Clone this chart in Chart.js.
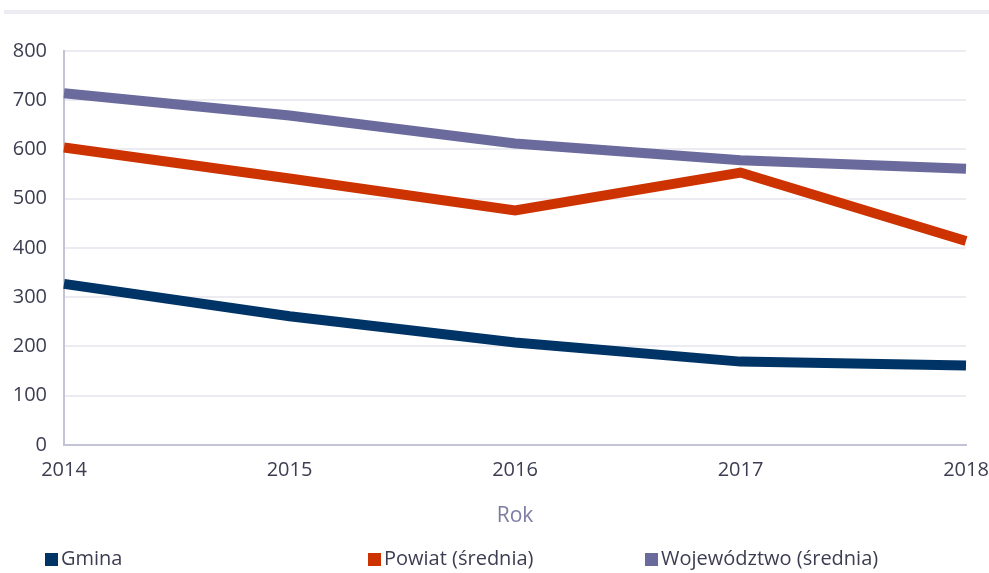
<!DOCTYPE html>
<html>
<head>
<meta charset="utf-8">
<script src="https://cdn.jsdelivr.net/npm/chart.js@4/dist/chart.umd.min.js"></script>
<style>
  html, body { margin: 0; padding: 0; background: #fff; }
  #wrap { position: relative; width: 989px; height: 573px; }
  #band { position: absolute; left: 4px; top: 10px; width: 985px; height: 4px; background: #ececf2; }
  canvas { position: absolute; left: 0; top: 0; }
</style>
</head>
<body>
<div id="wrap">
  <div id="band"></div>
  <canvas id="chart" width="989" height="573"></canvas>
</div>
<script>
  // dane
  var years = ['2014', '2015', '2016', '2017', '2018']
  var gmina = [327, 261, 208, 169, 161]
  var powiat = [604, 541, 476, 553, 414]
  var wojewodztwo = [714, 669, 612, 578, 561]
  var seriesNames = ['Gmina', 'Powiat (średnia)', 'Województwo (średnia)']
  var yTicks = [0, 100, 200, 300, 400, 500, 600, 700, 800]

  var colors = ['#003466', '#cc3300', '#6a6a9d']
  var textColor = '#3d3d52'
  var fontFamily = '"Open Sans", "Noto Sans", sans-serif'

  // legenda rysowana recznie, bo kolumny nie sa rownomierne
  var legendCols = [45, 368, 645]
  var fixedLegend = {
    id: 'fixedLegend',
    afterDraw: function (chart) {
      var ctx = chart.ctx
      ctx.save()
      ctx.font = '20px ' + fontFamily
      ctx.textBaseline = 'middle'
      chart.data.datasets.forEach(function (ds, i) {
        var x = legendCols[i]
        var y = 559
        ctx.fillStyle = ds.borderColor
        ctx.fillRect(x, y - 6, 13, 13)
        ctx.fillStyle = textColor
        ctx.fillText(ds.label, x + 16, y)
      })
      ctx.restore()
    }
  }

  var datasets = [gmina, powiat, wojewodztwo].map(function (vals, i) {
    return {
      label: seriesNames[i],
      data: vals,
      borderColor: colors[i],
      backgroundColor: colors[i],
      borderWidth: 10,
      pointRadius: 0,
      tension: 0,
      fill: false
    }
  })

  new Chart(document.getElementById('chart').getContext('2d'), {
    type: 'line',
    data: { labels: years, datasets: datasets },
    options: {
      responsive: false,
      animation: false,
      layout: { padding: { left: 12, right: 23, top: 51, bottom: 44 } },
      plugins: {
        legend: { display: false },
        tooltip: { enabled: false }
      },
      scales: {
        x: {
          offset: false,
          afterFit: function (axis) {
            axis.paddingLeft = 0
            axis.paddingRight = 0
          },
          grid: { display: false, drawTicks: false },
          border: { color: '#c3c3d6', width: 2 },
          ticks: { color: textColor, font: { family: fontFamily, size: 20 }, padding: 13, maxRotation: 0 },
          title: { display: true, text: 'Rok', color: '#7c7ca3', font: { family: fontFamily, size: 21 }, padding: { top: 9, bottom: 0 } }
        },
        y: {
          min: 0,
          max: 800,
          afterBuildTicks: function (axis) {
            axis.ticks = yTicks.map(function (v) { return { value: v } })
          },
          afterFit: function (axis) { axis.width = 52 },
          grid: { color: '#ebebf1', lineWidth: 2, drawTicks: false },
          border: { color: '#c3c3d6', width: 2 },
          ticks: { color: textColor, font: { family: fontFamily, size: 20 }, padding: 17 }
        }
      }
    },
    plugins: [fixedLegend]
  })
</script>
</body>
</html>
